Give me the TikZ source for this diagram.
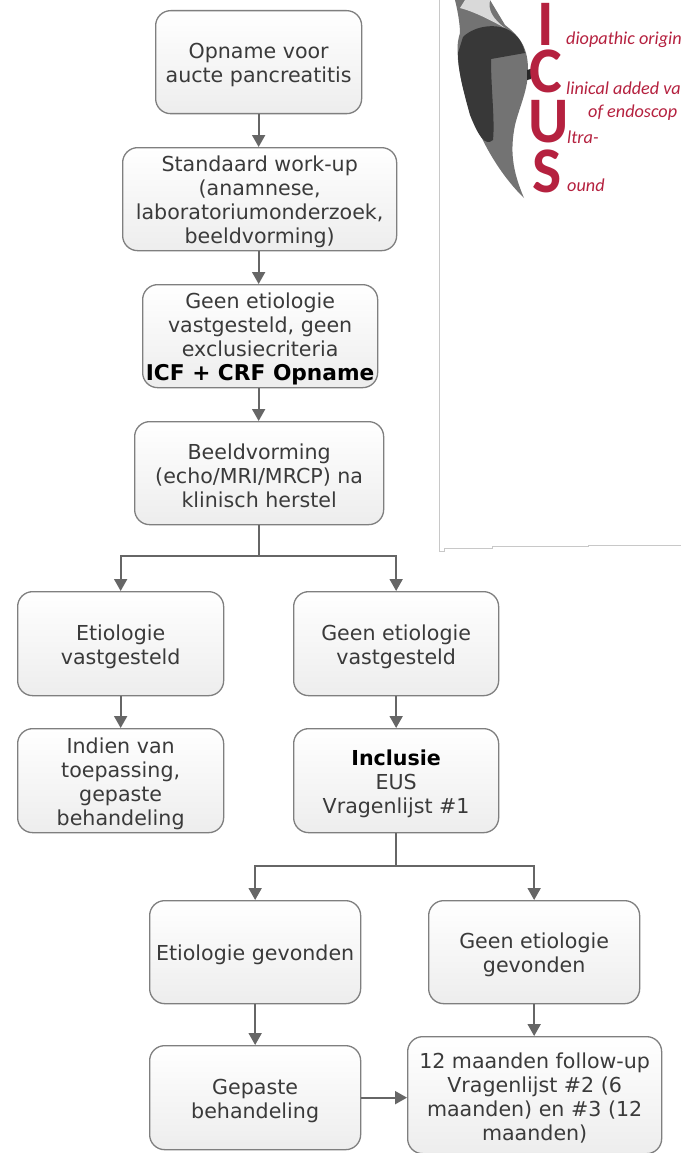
\documentclass[tikz,border=0pt]{standalone}
\usepackage{fontspec}
\setmainfont{DejaVu Sans}
\newfontfamily\logofont{Carlito}
\usetikzlibrary{arrows.meta}
\definecolor{boxline}{HTML}{7F7F7F}
\definecolor{flowline}{HTML}{666666}
\definecolor{txt}{HTML}{3A3A3A}
\definecolor{logored}{HTML}{B5213F}
\definecolor{panelline}{HTML}{C8C8C8}
\tikzset{
 flowbox/.style={draw=boxline,line width=1.3pt,rounded corners=15pt,top color=white,bottom color=black!7,
   anchor=north west,align=center,inner sep=0pt,text=txt,font=\fontsize{20.6}{24}\selectfont},
 flow/.style={draw=flowline,line width=1.9pt,-{Triangle[length=12pt,width=13pt]}},
 logotxt/.style={text=logored,anchor=west,inner sep=0pt,font=\logofont\itshape\fontsize{18.2}{20}\selectfont},
 logoletter/.style={text=logored,inner sep=0pt,transform shape,xscale=.95,font=\logofont\bfseries\fontsize{65}{65}\selectfont},
}
\newcommand{\flowb}[6]{\node[flowbox,minimum width=#4pt-#2pt,minimum height=#5pt-#3pt] (#1) at (#2,#3) {\rule{0pt}{21pt}#6};}
\begin{document}
\begin{tikzpicture}[x=1pt,y=-1pt]
\useasboundingbox (0,0) rectangle (681,1153);
\fill[white] (0,0) rectangle (681,1153);
% panel
\draw[panelline,line width=1pt] (439.5,0) -- (439.5,551.5) -- (444,551.5) -- (444,548.5) -- (492,548.5) -- (492,546.5) -- (588,546.5) -- (588,545) -- (681,545);
% bird
\begin{scope}
\clip (0,0) rectangle (681,1153);
\fill[black!55] (455,0) .. controls (458,12) and (460,25) .. (460,33) .. controls (456,45) and (458,55) .. (458,60) .. controls (462,100) and (485,160) .. (524,198) .. controls (512,170) and (510,150) .. (515,125) .. controls (520,105) and (528,90) .. (528,70) .. controls (528,50) and (522,38) .. (505,25) -- (490,0) -- cycle;
\fill[black!15] (465,0) -- (490,0) .. controls (488,10) and (492,18) .. (505,28) .. controls (490,20) and (475,12) .. (460,8) -- cycle;
\fill[black!78] (463,37) .. controls (475,25) and (500,22) .. (513,33) .. controls (520,38) and (523,45) .. (525,53) -- (491,59) .. controls (491,90) and (495,120) .. (493,140) .. controls (485,147) and (478,135) .. (470,115) .. controls (463,90) and (458,70) .. (458,53) -- cycle;
\fill[black!85] (527,70) -- (534,68) -- (531,79) -- (527,80) -- cycle;
\end{scope}
% logo text
\begin{scope}
\clip (0,0) rectangle (681,1153);
\node[logoletter] (lI) at (546,24) {I};
\node[logoletter] (lC) at (546,71) {C};
\node[logoletter] (lU) at (549,122) {U};
\node[logoletter] (lS) at (547,171) {S};
\node[logotxt] (t1) at (566,40) {diopathic origin};
\node[logotxt] (t2) at (566,88) {linical added va};
\node[logotxt] (t3) at (588,113) {of endoscop};
\node[logotxt] (t4) at (567,137) {ltra-};
\node[logotxt] (t5) at (567,185) {ound};
\end{scope}
% boxes
\flowb{a}{155}{10}{361}{113}{Opname voor\\aucte pancreatitis}
\flowb{b}{122}{147}{396}{250}{Standaard work-up\\(anamnese,\\laboratoriumonderzoek,\\beeldvorming)}
\flowb{c}{142}{284}{377}{387}{Geen etiologie\\vastgesteld, geen\\exclusiecriteria\\\textcolor{black}{\fontsize{21.7}{24}\selectfont\textbf{ICF + CRF Opname}}}
\flowb{d}{134}{421}{383}{524}{Beeldvorming\\(echo/MRI/MRCP) na\\klinisch herstel}
\flowb{e}{17}{591}{223}{695}{Etiologie\\vastgesteld}
\flowb{f}{293}{591}{498}{695}{Geen etiologie\\vastgesteld}
\flowb{g}{17}{728}{223}{832}{Indien van\\toepassing,\\gepaste\\behandeling}
\flowb{h}{293}{728}{498}{832}{\textcolor{black}{\textbf{Inclusie}}\\EUS\\Vragenlijst \#1}
\flowb{i}{149}{900}{360}{1003}{Etiologie gevonden}
\flowb{j}{428}{900}{639}{1003}{Geen etiologie\\gevonden}
\flowb{k}{149}{1045}{360}{1149}{Gepaste\\behandeling}
\flowb{l}{407}{1036}{661}{1153}{12 maanden follow-up\\Vragenlijst \#2 (6\\maanden) en \#3 (12\\maanden)}
% connectors
\draw[flow] (a.south) -- (a.south |- b.north);
\draw[flow] (a.south |- b.south) -- (a.south |- c.north);
\draw[flow] (a.south |- c.south) -- (a.south |- d.north);
\coordinate (s1) at ([yshift=-31pt]a.south |- d.south);
\draw[flow] (a.south |- d.south) -- (s1) -| (e.north);
\draw[flow] (s1) -| (f.north);
\draw[flow] (e) -- (g);
\draw[flow] (f) -- (h);
\coordinate (s2) at ([yshift=-33pt]h.south);
\draw[flow] (h.south) -- (s2) -| (i.north);
\draw[flow] (s2) -| (j.north);
\draw[flow] (i) -- (k);
\draw[flow] (j) -- (j.south |- l.north);
\draw[flow] (k.east) -- (k.east -| l.west);
\end{tikzpicture}
\end{document}
